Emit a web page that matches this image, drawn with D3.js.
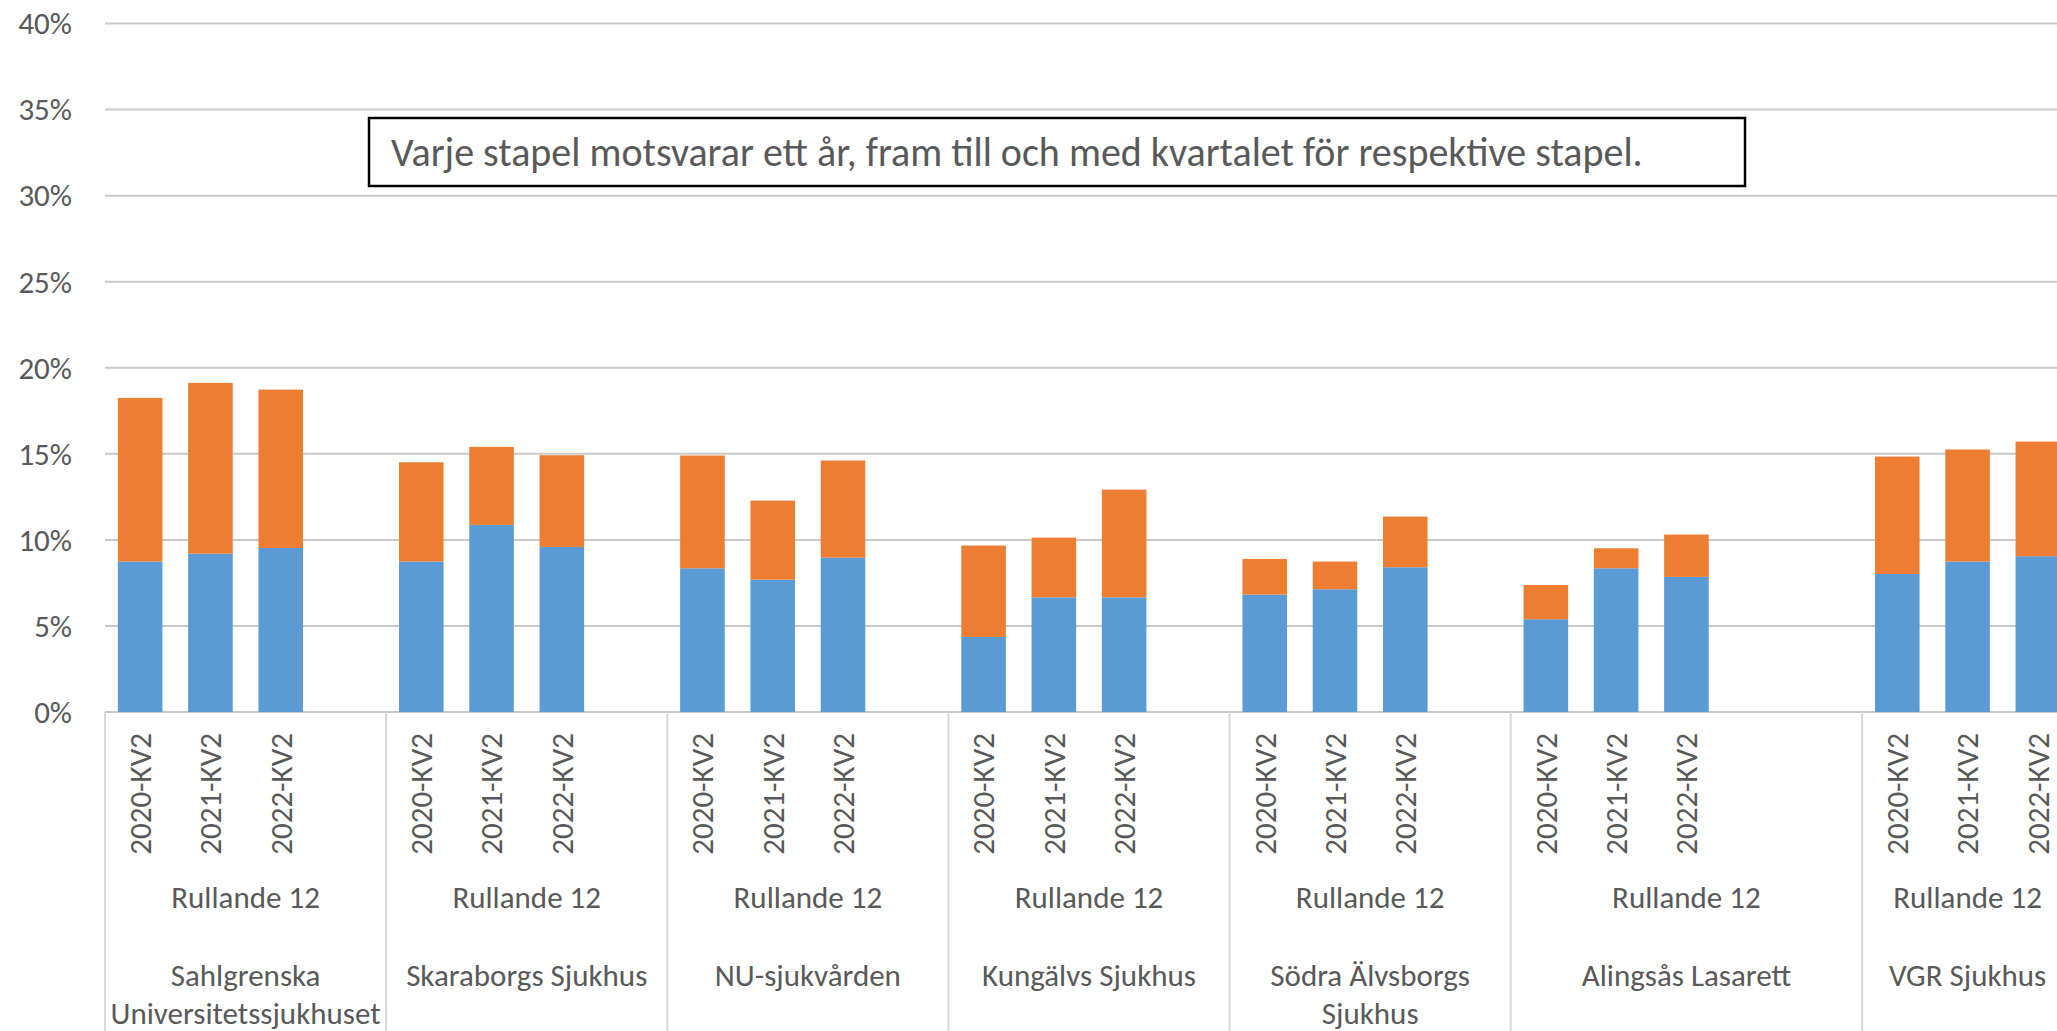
<!DOCTYPE html>
<html>
<head>
<meta charset="utf-8">
<style>
body { margin: 0; background: #fff; }
svg { display: block; font-family: Carlito, Calibri, Lato, sans-serif; }
.grid line { stroke: #c9c9c9; stroke-width: 2; }
.sep { stroke: #d9d9d9; stroke-width: 2; }
.lbl { fill: #595959; font-size: 31px; }
.note rect { fill: #fff; stroke: #000; stroke-width: 2.5; }
.note text { fill: #595959; font-size: 40px; }
</style>
</head>
<body>
<svg width="2057" height="1031"></svg>
<script src="https://d3js.org/d3.v7.min.js"></script>
<script>

// hospitals, left to right
var hospitals = ["Sahlgrenska Universitetssjukhuset", "Skaraborgs Sjukhus", "NU-sjukvården",
  "Kungälvs Sjukhus", "Södra Älvsborgs Sjukhus", "Alingsås Lasarett", "VGR Sjukhus"]
var periods = ["2020-KV2", "2021-KV2", "2022-KV2"]
// empty categories after each hospital's bars in the source sheet
var blankSlots = [1, 1, 1, 1, 1, 2, 0]
var rolling = "Rullande 12"

// percent, lower (blue) and upper (orange) part of each stack
var blueValues = [
  [8.74, 9.20, 9.53],
  [8.74, 10.87, 9.59],
  [8.35, 7.69, 8.97],
  [4.36, 6.66, 6.66],
  [6.82, 7.13, 8.41],
  [5.39, 8.35, 7.85],
  [8.02, 8.74, 9.05]
]
var orangeValues = [
  [9.51, 9.92, 9.20],
  [5.77, 4.53, 5.33],
  [6.55, 4.59, 5.64],
  [5.31, 3.47, 6.26],
  [2.07, 1.61, 2.94],
  [1.99, 1.16, 2.46],
  [6.82, 6.51, 6.66]
]
var yTicks = [0, 5, 10, 15, 20, 25, 30, 35, 40]
var note = "Varje stapel motsvarar ett år, fram till och med kvartalet för respektive stapel."

var svg = d3.select("svg")
var colors = {blue: "#5b9bd5", orange: "#ed7d31"}

// one row per category slot (blank slots included)
var rows = []
hospitals.forEach(function(h, i) {
  periods.forEach(function(p, j) {
    rows.push({key: i + "-" + j, hi: i, period: p, blue: blueValues[i][j], orange: orangeValues[i][j]})
  })
  for (var k = 0; k < blankSlots[i]; k++) {
    rows.push({key: i + "-b" + k, hi: i, period: "", blue: 0, orange: 0})
  }
})

var x = d3.scaleBand()
  .domain(rows.map(function(d) { return d.key }))
  .range([105, 2073])
  .paddingInner(0.366)
  .paddingOuter(0.183)

var y = d3.scaleLinear()
  .domain([0, 40])
  .range([712, 23.5])

var pad = (x.step() - x.bandwidth()) / 2

// gridlines
var grid = svg.append("g").attr("class", "grid")
grid.selectAll("line")
  .data(yTicks)
  .enter().append("line")
    .attr("x1", 105).attr("x2", 2073)
    .attr("y1", function(d) { return y(d) })
    .attr("y2", function(d) { return y(d) })

svg.append("g").selectAll("text")
  .data(yTicks)
  .enter().append("text")
    .attr("class", "lbl")
    .attr("x", 72)
    .attr("y", function(d) { return y(d) })
    .attr("dy", "0.35em")
    .attr("text-anchor", "end")
    .text(function(d) { return d + "%" })

// stacked bars
var stack = d3.stack().keys(["blue", "orange"])
var layers = stack(rows.filter(function(d) { return d.period !== "" }))

svg.append("g").selectAll("g")
  .data(layers)
  .enter().append("g")
    .attr("fill", function(d) { return colors[d.key] })
  .selectAll("rect")
  .data(function(d) { return d })
  .enter().append("rect")
    .attr("x", function(d) { return x(d.data.key) })
    .attr("width", x.bandwidth())
    .attr("y", function(d) { return y(d[1]) })
    .attr("height", function(d) { return y(d[0]) - y(d[1]) })

// group extents on the category axis
var groups = hospitals.map(function(h, i) {
  var keys = rows.filter(function(d) { return d.hi === i }).map(function(d) { return d.key })
  var x0 = x(keys[0]) - pad
  var x1 = x(keys[keys.length - 1]) + x.bandwidth() + pad
  return {name: h, x0: x0, x1: x1}
})

var seps = groups.map(function(g) { return g.x0 }).concat([groups[groups.length - 1].x1])
svg.append("g").selectAll("line")
  .data(seps)
  .enter().append("line")
    .attr("class", "sep")
    .attr("x1", function(d) { return d }).attr("x2", function(d) { return d })
    .attr("y1", 712).attr("y2", 1031)

// period labels, rotated
svg.append("g").selectAll("text")
  .data(rows.filter(function(d) { return d.period !== "" }))
  .enter().append("text")
    .attr("class", "lbl")
    .attr("text-anchor", "end")
    .attr("dy", "0.35em")
    .attr("transform", function(d) {
      return "translate(" + (x(d.key) + x.bandwidth() / 2) + ",733) rotate(-90)"
    })
    .text(function(d) { return d.period })

svg.append("g").selectAll("text")
  .data(groups)
  .enter().append("text")
    .attr("class", "lbl")
    .attr("text-anchor", "middle")
    .attr("x", function(d) { return (d.x0 + d.x1) / 2 })
    .attr("y", 897)
    .attr("dy", "0.35em")
    .text(rolling)

// hospital names, wrapped to the group width
var names = svg.append("g").selectAll("text")
  .data(groups)
  .enter().append("text")
    .attr("class", "lbl")
    .attr("text-anchor", "middle")
    .attr("y", 975)

names.each(function(d) {
  var t = d3.select(this)
  var cx = (d.x0 + d.x1) / 2
  var words = d.name.split(" ")
  var lines = [], line = []
  var probe = t.append("tspan")
  words.forEach(function(w) {
    line.push(w)
    probe.text(line.join(" "))
    if (probe.node().getComputedTextLength() > (d.x1 - d.x0) - 8 && line.length > 1) {
      line.pop()
      lines.push(line.join(" "))
      line = [w]
    }
  })
  lines.push(line.join(" "))
  probe.remove()
  lines.forEach(function(l, i) {
    t.append("tspan")
      .attr("x", cx)
      .attr("y", 975 + i * 38)
      .attr("dy", "0.35em")
      .text(l)
  })
})

// note box
var box = svg.append("g").attr("class", "note")
box.append("rect")
  .attr("x", 369).attr("y", 118)
  .attr("width", 1376).attr("height", 68)
box.append("text")
  .attr("x", 391).attr("y", 152)
  .attr("dy", "0.35em")
  .text(note)

</script>
</body>
</html>
